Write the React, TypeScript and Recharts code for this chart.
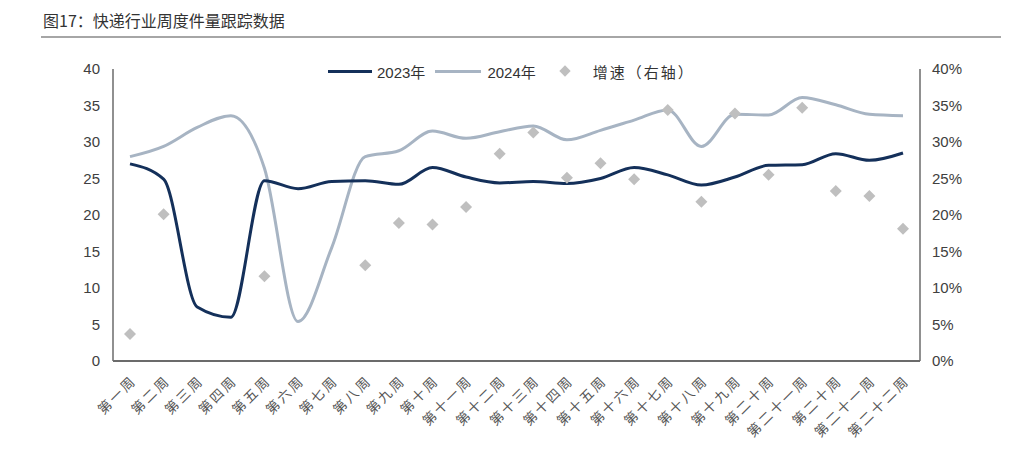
import React from "react";
import { ComposedChart, Line, Scatter, XAxis, YAxis } from "recharts";

const weeks = [
  "第一周", "第二周", "第三周", "第四周", "第五周", "第六周", "第七周", "第八周",
  "第九周", "第十周", "第十一周", "第十二周", "第十三周", "第十四周", "第十五周", "第十六周",
  "第十七周", "第十八周", "第十九周", "第二十周", "第二十一周", "第二十周", "第二十一周", "第二十二周",
];
const vol2023 = [27.0, 24.9, 7.4, 6.0, 24.7, 23.6, 24.6, 24.7, 24.2, 26.5, 25.2, 24.4,
  24.6, 24.3, 25.0, 26.5, 25.5, 24.1, 25.2, 26.8, 26.9, 28.4, 27.5, 28.5];
const vol2024 = [28.0, 29.4, 32.0, 33.6, 26.4, 5.4, 15.5, 28.0, 28.8, 31.5, 30.5, 31.4,
  32.2, 30.3, 31.6, 33.0, 34.4, 29.4, 33.8, 33.7, 36.1, 35.1, 33.8, 33.6];
const growth: (number | null)[] = [3.7, 20.1, null, null, 11.6, null, null, 13.1, 18.9, 18.7, 21.1, 28.4,
  31.3, 25.1, 27.1, 24.9, 34.4, 21.8, 33.9, 25.5, 34.7, 23.3, 22.6, 18.1];
const leftTicks = [0, 5, 10, 15, 20, 25, 30, 35, 40];
const rightTicks = [0, 5, 10, 15, 20, 25, 30, 35, 40];

const data = weeks.map((w, i) => ({
  idx: i,
  week: w,
  y2023: vol2023[i],
  y2024: vol2024[i],
  growth: growth[i],
}));

const C2023 = "#14305a";
const C2024 = "#a7b4c3";
const CDIA = "#bfbfbf";
const AXIS = "#6b6b6b";
const FONT = "'Liberation Sans', Arial, 'Noto Sans CJK SC', sans-serif";

const Diamond = (props: any) => {
  const { cx, cy, payload } = props;
  if (payload == null || payload.growth == null || cx == null || cy == null || isNaN(cy)) return null;
  const r = 6;
  return (
    <polygon
      points={`${cx},${cy - r} ${cx + r},${cy} ${cx},${cy + r} ${cx - r},${cy}`}
      fill={CDIA}
    />
  );
};

const XTick = (props: any) => {
  const { x, payload } = props;
  const label = weeks[payload.value] ?? "";
  return (
    <g transform={`translate(${x + 4},${378})`}>
      <text
        textAnchor="end"
        transform="rotate(-45)"
        dy="0.35em"
        fontSize={13.5}
        fill="#555"
        letterSpacing={2.5}
        fontFamily="'Noto Sans CJK SC', sans-serif"
      >
        {label}
      </text>
    </g>
  );
};

export default function App() {
  return (
    <div style={{ position: "absolute", left: 0, top: 0, width: 1029, height: 464, background: "#fff", fontFamily: FONT }}>
      <div style={{ position: "absolute", left: 43, top: 9, fontSize: 16, color: "#333", fontFamily: "'Noto Sans CJK SC', sans-serif", lineHeight: "22px" }}>
        图17：快递行业周度件量跟踪数据
      </div>
      <div style={{ position: "absolute", left: 41, top: 36, width: 960, height: 2, background: "#a6a6a6" }} />
      <div style={{ position: "absolute", left: 0, top: 0 }}>
        <ComposedChart
          width={1029}
          height={464}
          data={data}
          margin={{ top: 69, right: 59, bottom: 0, left: 60 }}
        >
          <XAxis
            dataKey="idx"
            type="category"
            interval={0}
            tickLine={false}
            padding={{ left: 17, right: 17 }}
            axisLine={{ stroke: AXIS, strokeWidth: 2 }}
            height={103}
            tick={<XTick />}
          />
          <YAxis
            yAxisId="left"
            orientation="left"
            domain={[0, 40]}
            ticks={leftTicks}
            width={53}
            tickLine={false}
            tickSize={0}
            tickMargin={13}
            axisLine={{ stroke: AXIS, strokeWidth: 1.5 }}
            tick={{ fontSize: 15, fill: "#404040", fontFamily: FONT }}
          />
          <YAxis
            yAxisId="right"
            orientation="right"
            domain={[0, 40]}
            ticks={rightTicks}
            width={50}
            tickLine={false}
            tickSize={0}
            tickMargin={12}
            axisLine={{ stroke: AXIS, strokeWidth: 1.5 }}
            tickFormatter={(v: number) => `${v}%`}
            tick={{ fontSize: 15, fill: "#404040", fontFamily: FONT, textAnchor: "start" }}
          />
          <Line
            yAxisId="left"
            type="monotone"
            dataKey="y2024"
            stroke={C2024}
            strokeWidth={3}
            dot={false}
            isAnimationActive={false}
          />
          <Line
            yAxisId="left"
            type="monotone"
            dataKey="y2023"
            stroke={C2023}
            strokeWidth={3}
            dot={false}
            isAnimationActive={false}
          />
          <Scatter
            yAxisId="right"
            dataKey="growth"
            shape={<Diamond />}
            isAnimationActive={false}
          />
        </ComposedChart>
      </div>
      <div style={{ position: "absolute", left: 328, top: 61, height: 20, display: "flex", alignItems: "center", fontSize: 15, color: "#333" }}>
        <span style={{ display: "inline-block", width: 44, height: 3, background: C2023, marginRight: 5 }} />
        <span>2023年</span>
        <span style={{ display: "inline-block", width: 46, height: 3, background: C2024, marginLeft: 10, marginRight: 6 }} />
        <span>2024年</span>
        <span style={{ display: "inline-block", width: 8, height: 8, background: CDIA, transform: "rotate(45deg)", marginLeft: 25, marginRight: 24 }} />
        <span style={{ fontFamily: "'Noto Sans CJK SC', sans-serif", letterSpacing: 2 }}>增速（右轴）</span>
      </div>
    </div>
  );
}
